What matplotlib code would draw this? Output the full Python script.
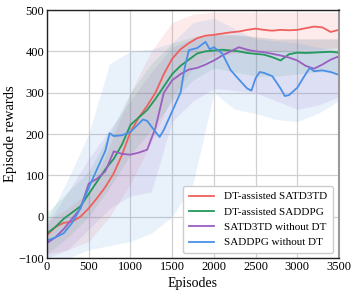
import numpy as np
import matplotlib
matplotlib.use("Agg")
import matplotlib.pyplot as plt

plt.rcParams['font.family'] = ['Liberation Serif', 'DejaVu Serif']
plt.rcParams['font.size'] = 9

#%% data

labels = ['DT-assisted SATD3TD', 'DT-assisted SADDPG', 'SATD3TD without DT', 'SADDPG without DT']
colors = ['#f0605c', '#23995c', '#9a5fc0', '#4a90e6']

ep_std = list(range(0, 3501, 100))

red_mean = [-45, -25, -15, -12, 0, 20, 45, 72, 105, 150, 205, 240, 268, 300, 345, 382,
            405, 420, 432, 438, 440, 443, 446, 448, 452, 455, 452, 450, 452, 451, 452,
            456, 460, 458, 447, 452]
green_mean = [-40, -25, -5, 10, 25, 55, 85, 115, 140, 175, 222, 240, 258, 285, 315, 345,
              365, 380, 395, 400, 402, 404, 402, 400, 396, 394, 392, 386, 378, 393, 397,
              396, 397, 398, 399, 397]
purple_mean = [-64, -50, -30, -5, 20, 80, 92, 110, 158, 152, 150, 155, 162, 215, 300, 330,
               345, 356, 360, 368, 378, 390, 400, 410, 404, 400, 398, 394, 390, 385, 378,
               365, 358, 368, 380, 388]

ep_blue = [0, 100, 200, 300, 400, 500, 600, 700, 750, 800, 900, 1000, 1100, 1150, 1200,
           1300, 1350, 1400, 1500, 1600, 1650, 1700, 1800, 1900, 1950, 2000, 2100, 2200,
           2300, 2400, 2450, 2500, 2550, 2600, 2700, 2800, 2850, 2900, 3000, 3100, 3150,
           3200, 3300, 3400, 3500]
blue_mean = [-58, -50, -40, -15, 20, 70, 115, 160, 202, 195, 197, 205, 225, 235, 232,
             205, 193, 210, 255, 300, 360, 403, 408, 423, 405, 410, 395, 355, 332, 310,
             305, 335, 350, 348, 340, 310, 292, 294, 312, 345, 360, 352, 354, 350, 343]

# shaded spread (lower / upper envelope)
ep_band = [0, 250, 500, 750, 1000, 1250, 1500, 1750, 2000, 2250, 2500, 2750, 3000, 3250, 3500]
red_lo = [-90, -80, -60, 0, 80, 180, 290, 360, 390, 395, 400, 400, 405, 405, 410]
red_hi = [-10, 20, 60, 170, 300, 400, 470, 490, 495, 495, 495, 495, 495, 495, 495]
green_lo = [-90, -50, 0, 70, 150, 210, 280, 330, 360, 350, 340, 340, 345, 350, 350]
green_hi = [10, 60, 110, 200, 300, 370, 420, 435, 440, 440, 435, 430, 430, 430, 430]
purple_lo = [-100, -80, -30, 20, 50, 60, 230, 280, 310, 305, 300, 280, 260, 270, 290]
purple_hi = [-20, 60, 140, 210, 280, 350, 410, 430, 440, 440, 435, 430, 430, 430, 430]
blue_lo = [-100, -100, -80, -70, -60, -40, 0, 80, 300, 260, 250, 235, 230, 250, 280]
blue_hi = [-10, 90, 200, 370, 400, 405, 420, 470, 480, 455, 430, 425, 420, 410, 400]

#%% plot

fig = plt.figure(figsize=(3.57, 2.95), dpi=100)
ax = fig.add_axes([0.1317, 0.1254, 0.8179, 0.8406])

bands = [(ep_band, red_lo, red_hi), (ep_band, green_lo, green_hi),
         (ep_band, purple_lo, purple_hi), (ep_band, blue_lo, blue_hi)]
for (xb, lo, hi), c in zip(bands, colors):
    ax.fill_between(xb, lo, hi, color=c, alpha=0.12, linewidth=0)

series = [(ep_std, red_mean), (ep_std, green_mean), (ep_std, purple_mean), (ep_blue, blue_mean)]
for (xs, ys), c, lab in zip(series, colors, labels):
    ax.plot(xs, ys, color=c, lw=1.3, label=lab)

ax.set_xlim(0, 3500)
ax.set_ylim(-100, 500)
ax.set_xticks(range(0, 3501, 500))
ax.set_yticks(range(-100, 501, 100))
ax.grid(True, color='#d0d0d0', lw=0.9)
ax.set_axisbelow(True)
ax.tick_params(length=0, pad=2, labelsize=9)
for s in ['left', 'bottom', 'top']:
    ax.spines[s].set_color('#222222')
    ax.spines[s].set_linewidth(1.0)
ax.spines['right'].set_color('#999999')
ax.spines['right'].set_linewidth(1.5)

ax.set_xlabel('Episodes', fontsize=10, labelpad=3)
ax.set_ylabel('Episode rewards', fontsize=10.5, labelpad=1)

leg = ax.legend(loc='lower right', fontsize=8, frameon=True, fancybox=True,
                handlelength=2.3, handletextpad=0.9, borderpad=0.5, labelspacing=0.5,
                borderaxespad=0, bbox_to_anchor=(0.979, 0.02))
leg.get_frame().set_edgecolor('#cccccc')
leg.get_frame().set_alpha(1.0)

fig.savefig('out.png', dpi=100)
